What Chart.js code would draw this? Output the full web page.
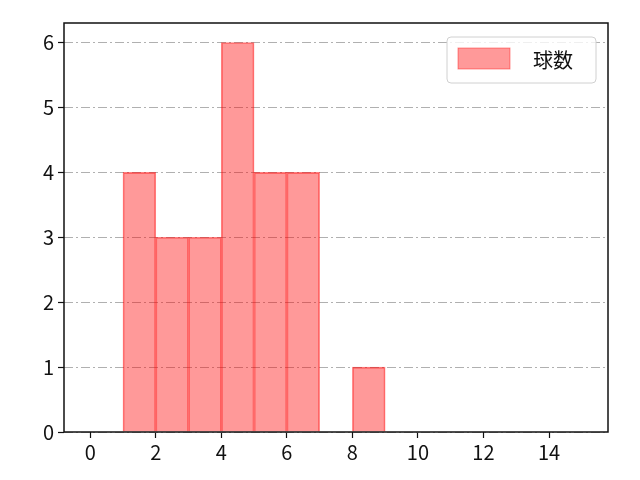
<!DOCTYPE html>
<html>
<head>
<meta charset="utf-8">
<script src="https://cdn.jsdelivr.net/npm/chart.js@4/dist/chart.umd.min.js"></script>
<style>
  html, body { margin: 0; padding: 0; background: #fff; }
</style>
</head>
<body>
<canvas id="chart" width="640" height="480"></canvas>
<script>
// histogram bins (centres) and counts
var binCenters = [1.5, 2.5, 3.5, 4.5, 5.5, 6.5, 7.5, 8.5];
var counts = [4, 3, 3, 6, 4, 4, 0, 1];
var seriesLabel = "球数";
var xTicks = [0, 2, 4, 6, 8, 10, 12, 14];
var yTicks = [0, 1, 2, 3, 4, 5, 6];

var font = "'Noto Sans CJK JP', 'Noto Sans', sans-serif";

var frame = {
  id: "frame",
  afterDraw: function (chart) {
    var c = chart.ctx, a = chart.chartArea;
    c.save();
    c.strokeStyle = "#111";
    c.lineWidth = 1.5;
    c.strokeRect(a.left, a.top, a.right - a.left, a.bottom - a.top);
    // legend box
    var x = a.right - 161, y = a.top + 14, w = 149, h = 46;
    c.fillStyle = "rgba(255,255,255,0.8)";
    c.strokeStyle = "#d0d0d0";
    c.lineWidth = 1;
    c.beginPath();
    c.roundRect(x, y, w, h, 4);
    c.fill();
    c.stroke();
    c.fillStyle = "rgba(255,0,0,0.4)";
    c.strokeStyle = "rgba(255,0,0,0.4)";
    c.fillRect(x + 11, y + 11, 52, 21);
    c.strokeRect(x + 11, y + 11, 52, 21);
    c.fillStyle = "#111";
    c.font = "20px " + font;
    c.textBaseline = "middle";
    c.fillText(chart.data.datasets[0].label, x + 86, y + 23);
    c.restore();
  }
};

var ctx = document.getElementById("chart").getContext("2d");
var chart = new Chart(ctx, {
  type: "bar",
  data: {
    datasets: [
      {
        label: seriesLabel,
        data: binCenters.map(function (x, i) { return { x: x, y: counts[i] }; }),
        backgroundColor: "rgba(255,0,0,0.4)",
        borderColor: "rgba(255,0,0,0.5)",
        borderWidth: 1,
        barPercentage: 1,
        categoryPercentage: 1
      }
    ]
  },
  options: {
    responsive: false,
    animation: false,
    layout: { padding: { left: 0, right: 32, top: 23, bottom: 0 } },
    plugins: {
      legend: { display: false },
      tooltip: { enabled: false }
    },
    scales: {
      x: {
        type: "linear",
        offset: false,
        min: -0.8,
        max: 15.8,
        afterBuildTicks: function (s) { s.ticks = xTicks.map(function (v) { return { value: v }; }); },
        afterFit: function (s) { s.height = 48; },
        grid: { offset: false, drawOnChartArea: false, drawTicks: true, tickLength: 6, tickColor: "#111", tickWidth: 1.2 },
        border: { display: false },
        ticks: { color: "#111", font: { family: font, size: 20 }, padding: 2, maxRotation: 0 }
      },
      y: {
        min: 0,
        max: 6.3,
        afterBuildTicks: function (s) { s.ticks = yTicks.map(function (v) { return { value: v }; }); },
        afterFit: function (s) { s.width = 64; },
        grid: {
          color: "#b0b0b0",
          lineWidth: 1,
          tickLength: 6,
          tickColor: "#111",
          tickWidth: 1.2,
          tickBorderDash: []
        },
        border: { display: false, dash: [9, 3, 2, 3] },
        ticks: { color: "#111", font: { family: font, size: 20 }, padding: 4 }
      }
    }
  },
  plugins: [frame]
});
</script>
</body>
</html>
